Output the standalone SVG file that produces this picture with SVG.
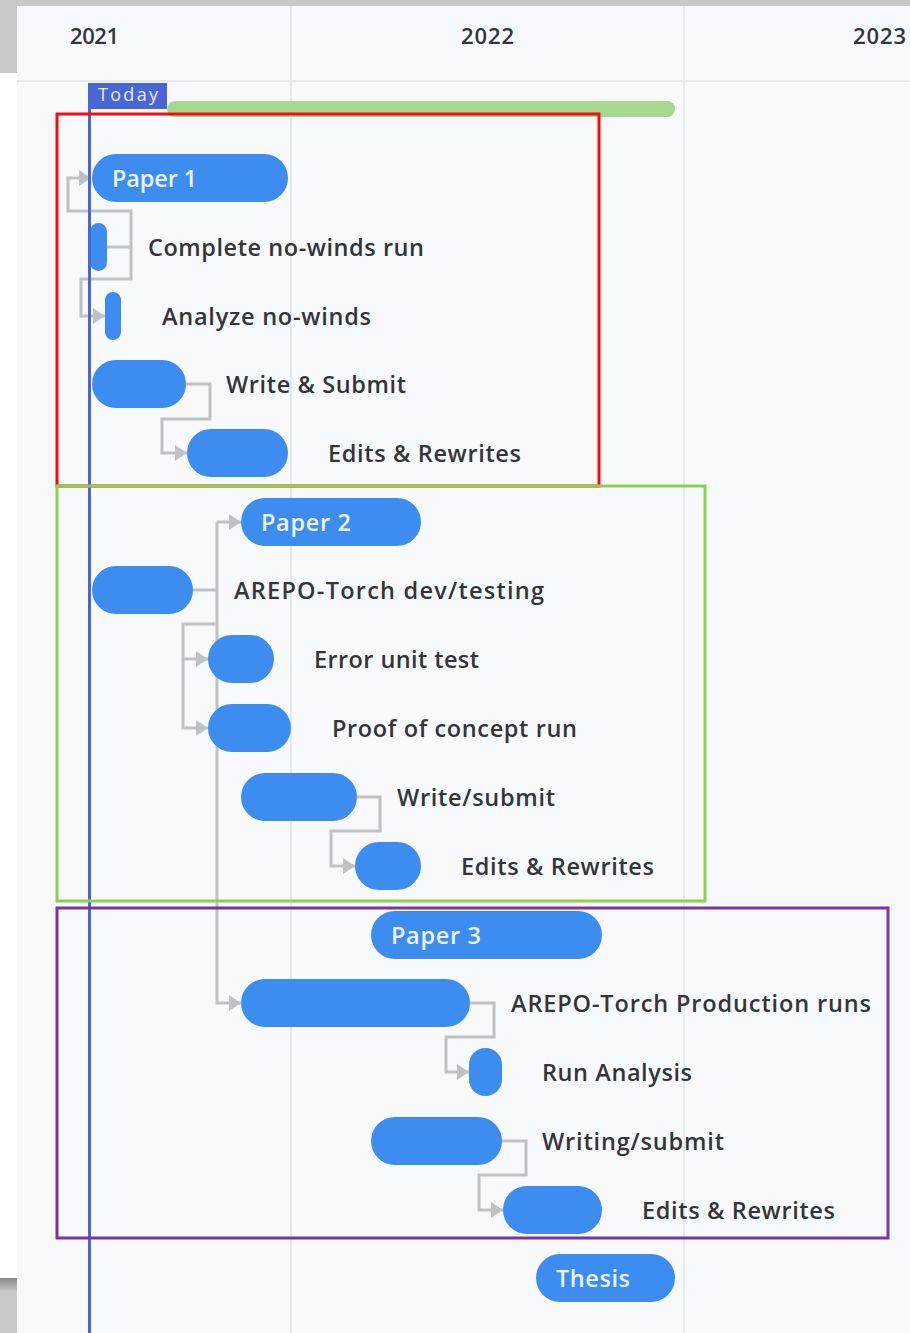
<svg xmlns="http://www.w3.org/2000/svg" width="910" height="1333" viewBox="0 0 910 1333">
<defs>
<style>
.bar{fill:#3d8cef}
.lbl{font-family:"Open Sans","Liberation Sans",sans-serif;font-weight:600;font-size:23.5px;fill:#333538}
.in{font-family:"Open Sans","Liberation Sans",sans-serif;font-weight:600;font-size:23.5px;fill:#eef4ff}
.yr{font-family:"Open Sans","Liberation Sans",sans-serif;font-weight:600;font-size:22px;fill:#333538}
.con{fill:none;stroke:#bfc1c6;stroke-width:3}
.grid{stroke:#e7e8ec;stroke-width:2}
</style>
<marker id="ah" viewBox="0 0 12 16" refX="12" refY="8" markerWidth="12" markerHeight="16" markerUnits="userSpaceOnUse" orient="auto">
<path d="M0,0 L12,8 L0,16 Z" fill="#bfc1c6"/>
</marker>
<linearGradient id="bg" x1="0" y1="0" x2="0" y2="1">
<stop offset="0" stop-color="#888"/><stop offset="0.25" stop-color="#c8c9c8"/><stop offset="1" stop-color="#c8c9c8"/>
</linearGradient>
</defs>
<rect x="0" y="0" width="910" height="1333" fill="#ffffff"/>
<rect x="0" y="0" width="910" height="6" fill="#c8c9c8"/>
<rect x="0" y="0" width="17" height="73" fill="#c8c9c8"/>
<rect x="0" y="1278" width="17" height="55" fill="url(#bg)"/>
<rect x="17" y="6" width="893" height="1327" fill="#f8f9fc"/>
<line class="grid" x1="17" y1="81" x2="910" y2="81"/>
<line class="grid" x1="291" y1="6" x2="291" y2="1333"/>
<line class="grid" x1="684" y1="6" x2="684" y2="1333"/>
<g id="years">
<text class="yr" x="70" y="44" textLength="49">2021</text>
<text class="yr" x="461" y="44" textLength="53">2022</text>
<text class="yr" x="853" y="44" textLength="53">2023</text>
</g>
<rect x="167" y="101" width="508" height="16" rx="8" fill="#a6d88e"/>
<g id="connectors">
<path class="con" d="M107,247 H131 V211 H68 V178 H91" marker-end="url(#ah)"/>
<path class="con" d="M131,247 V279 H81 V316 H105" marker-end="url(#ah)"/>
<path class="con" d="M186,384 H210 V419 H162 V453 H187" marker-end="url(#ah)"/>
<path class="con" d="M193,590 H217"/>
<path class="con" d="M217,522 H241" marker-end="url(#ah)"/>
<path class="con" d="M217,522 V1003 H241" marker-end="url(#ah)"/>
<path class="con" d="M217,624 H183 V659 H208" marker-end="url(#ah)"/>
<path class="con" d="M183,659 V728 H208" marker-end="url(#ah)"/>
<path class="con" d="M357,797 H380 V831 H331 V866 H355" marker-end="url(#ah)"/>
<path class="con" d="M470,1003 H494 V1037 H446 V1072 H469" marker-end="url(#ah)"/>
<path class="con" d="M502,1141 H526 V1175 H479 V1210 H503" marker-end="url(#ah)"/>
</g>
<g id="paper1"><rect class="bar" x="92" y="154" width="196" height="48" rx="24"/><text class="in" x="112" y="187" textLength="85">Paper 1</text></g>
<g id="complete-no-winds"><rect class="bar" x="90" y="223" width="17" height="48" rx="8.5"/><text class="lbl" x="148" y="256" textLength="276">Complete no-winds run</text></g>
<g id="analyze-no-winds"><rect class="bar" x="105" y="292" width="16" height="48" rx="8"/><text class="lbl" x="162" y="325" textLength="209">Analyze no-winds</text></g>
<g id="write-submit-1"><rect class="bar" x="92" y="360" width="94" height="48" rx="24"/><text class="lbl" x="226" y="393" textLength="180">Write &amp; Submit</text></g>
<g id="edits-1"><rect class="bar" x="187" y="429" width="101" height="48" rx="24"/><text class="lbl" x="328" y="462" textLength="193">Edits &amp; Rewrites</text></g>
<g id="paper2"><rect class="bar" x="241" y="498" width="180" height="48" rx="24"/><text class="in" x="261" y="531" textLength="90">Paper 2</text></g>
<g id="arepo-dev"><rect class="bar" x="92" y="566" width="101" height="48" rx="24"/><text class="lbl" x="234" y="599" textLength="310">AREPO-Torch dev/testing</text></g>
<g id="error-unit-test"><rect class="bar" x="208" y="635" width="66" height="48" rx="24"/><text class="lbl" x="314" y="668" textLength="165">Error unit test</text></g>
<g id="proof-of-concept"><rect class="bar" x="208" y="704" width="83" height="48" rx="24"/><text class="lbl" x="332" y="737" textLength="245">Proof of concept run</text></g>
<g id="write-submit-2"><rect class="bar" x="241" y="773" width="116" height="48" rx="24"/><text class="lbl" x="397" y="806" textLength="158">Write/submit</text></g>
<g id="edits-2"><rect class="bar" x="355" y="842" width="66" height="48" rx="24"/><text class="lbl" x="461" y="875" textLength="193">Edits &amp; Rewrites</text></g>
<g id="paper3"><rect class="bar" x="371" y="911" width="231" height="48" rx="24"/><text class="in" x="391" y="944" textLength="90">Paper 3</text></g>
<g id="arepo-prod"><rect class="bar" x="241" y="979" width="229" height="48" rx="24"/><text class="lbl" x="511" y="1012" textLength="360">AREPO-Torch Production runs</text></g>
<g id="run-analysis"><rect class="bar" x="469" y="1048" width="33" height="48" rx="16.5"/><text class="lbl" x="542" y="1081" textLength="150">Run Analysis</text></g>
<g id="writing-submit"><rect class="bar" x="371" y="1117" width="131" height="48" rx="24"/><text class="lbl" x="542" y="1150" textLength="182">Writing/submit</text></g>
<g id="edits-3"><rect class="bar" x="503" y="1186" width="99" height="48" rx="24"/><text class="lbl" x="642" y="1219" textLength="193">Edits &amp; Rewrites</text></g>
<g id="thesis"><rect class="bar" x="536" y="1254" width="139" height="48" rx="24"/><text class="in" x="556" y="1287" textLength="74">Thesis</text></g>
<g id="today">
<line x1="89.5" y1="83" x2="89.5" y2="1333" stroke="#4a66d4" stroke-width="3"/>
<rect x="88" y="83" width="79" height="26" fill="#4a66d4"/>
<text x="98" y="101" textLength="60" style="font-family:'Open Sans','Liberation Sans',sans-serif;font-size:18px;fill:#e8eeff">Today</text>
</g>
<g id="highlights" fill="none" stroke-width="3">
<rect x="57" y="114" width="542" height="372" stroke="#f20d0d"/>
<rect x="57" y="486" width="648" height="415" stroke="#8ed04e"/>
<rect x="57" y="908" width="831" height="330" stroke="#7a35a0"/>
</g>
</svg>
